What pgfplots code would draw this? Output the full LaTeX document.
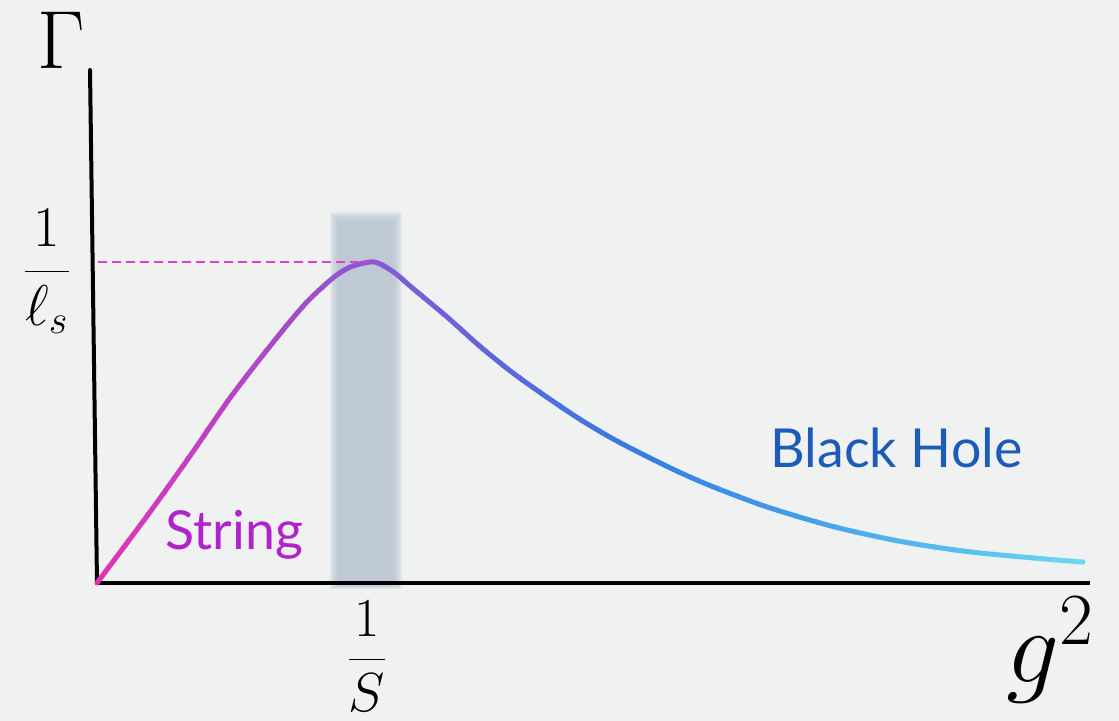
\documentclass[border=0pt]{standalone}
\usepackage{fix-cm}
\usepackage{pgfplots}
\pgfplotsset{compat=1.18}
\usepackage{pgfplotstable}
\usepackage{fontspec}
\newfontfamily\lab{Lato}
\definecolor{bg}{RGB}{240,242,241}
\definecolor{band}{RGB}{184,197,211}
\definecolor{dashc}{RGB}{232,60,200}
\definecolor{strc}{RGB}{176,34,204}
\definecolor{bhc}{RGB}{28,92,184}
\pgfplotsset{colormap={grad}{rgb255(0cm)=(228,50,182); rgb255(1cm)=(138,88,212); rgb255(1.5cm)=(90,104,220); rgb255(2cm)=(52,126,228); rgb255(2.7cm)=(72,166,235); rgb255(3.612cm)=(106,216,240)}}
\pgfplotstableread{
x y
0 0
0.194 0.221
0.341 0.396
0.487 0.576
0.634 0.738
0.762 0.869
0.864 0.950
0.927 0.984
1.0 1.0
1.037 0.994
1.092 0.965
1.158 0.917
1.282 0.829
1.403 0.737
1.524 0.654
1.648 0.579
1.769 0.510
1.890 0.449
2.015 0.394
2.136 0.344
2.256 0.300
2.454 0.237
2.696 0.176
2.941 0.130
3.187 0.098
3.429 0.078
3.612 0.065
}\curve
\begin{document}
\begin{tikzpicture}
\begin{axis}[
  scale only axis, width=447.6pt, height=288.4pt,
  xmin=-0.3553, xmax=3.7436, ymin=-0.4299, ymax=1.8162,
  axis lines=none, clip=false,
  axis background/.style={fill=bg},
]
% shaded band (soft edges)
\addplot[draw=none, fill=band, fill opacity=0.25] coordinates {(0.853,-0.02) (1.117,-0.02) (1.117,1.157) (0.853,1.157)} -- cycle;
\addplot[draw=none, fill=band, fill opacity=0.3] coordinates {(0.860,-0.016) (1.110,-0.016) (1.110,1.150) (0.860,1.150)} -- cycle;
\addplot[draw=none, fill=band, fill opacity=0.3] coordinates {(0.866,-0.012) (1.104,-0.012) (1.104,1.144) (0.866,1.144)} -- cycle;
\addplot[draw=none, fill=band, fill opacity=0.3] coordinates {(0.872,-0.008) (1.098,-0.008) (1.098,1.138) (0.872,1.138)} -- cycle;
\addplot[draw=none, fill=band, fill opacity=0.3] coordinates {(0.878,-0.004) (1.092,-0.004) (1.092,1.132) (0.878,1.132)} -- cycle;
\addplot[draw=none, fill=band, fill opacity=0.3] coordinates {(0.884,0) (1.086,0) (1.086,1.126) (0.884,1.126)} -- cycle;
% axes
\addplot[black, line width=1.6pt, line cap=round] coordinates {(-0.0256,1.598) (0,0)};
\addplot[black, line width=1.6pt] coordinates {(0,0) (3.637,0)};
% curve, coloured strip by strip
\pgfplotsinvokeforeach{0,20,...,1000}{
  \begin{scope}
  \clip (axis cs:{(#1-10)*0.003612-0.004},-0.2) rectangle (axis cs:{(#1+10)*0.003612+0.004},1.2);
  \addplot[smooth, line width=2pt, line cap=round, color of colormap={#1 of grad}] table {\curve};
  \end{scope}
}
% dashed line
\addplot[dashc, line width=0.8pt, dash pattern=on 3.6pt off 2pt] coordinates {(0.005,1) (1.0,1)};
% labels
\node[inner sep=0pt, font=\fontsize{33}{36}\selectfont] at (axis cs:-0.132,1.692) {$\Gamma$};
\node[inner sep=0pt, font=\fontsize{23}{26}\selectfont] at (axis cs:-0.183,0.969) {$\displaystyle\frac{1}{\ell_s}$};
\node[inner sep=0pt, font=\fontsize{22}{25}\selectfont] at (axis cs:0.989,-0.228) {$\displaystyle\frac{1}{S}$};
\node[inner sep=0pt, font=\fontsize{42}{44}\selectfont] at (axis cs:3.491,-0.209) {$g^2$};
\node[anchor=base west, inner sep=0pt, text=strc, font=\lab\fontsize{21.5}{24}\selectfont] at (axis cs:0.249,0.103) {String};
\node[anchor=base west, inner sep=0pt, text=bhc, font=\lab\fontsize{21.5}{24}\selectfont] at (axis cs:2.465,0.361) {Black Hole};
\end{axis}
\end{tikzpicture}
\end{document}
